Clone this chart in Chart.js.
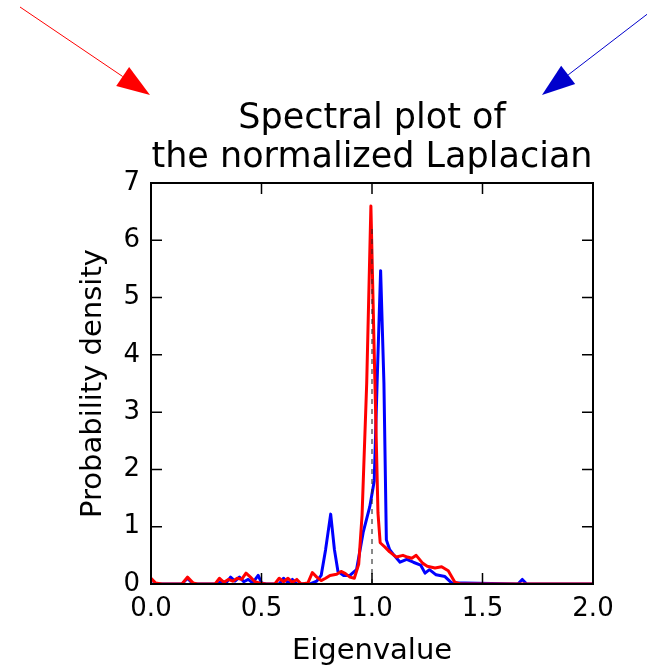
<!DOCTYPE html>
<html>
<head>
<meta charset="utf-8">
<script src="https://cdn.jsdelivr.net/npm/chart.js@4.4.0/dist/chart.umd.min.js"></script>
<style>
  body { margin: 0; background: #fff; }
  #marco { width: 647px; height: 667px; }
</style>
</head>
<body>
<div id="marco"><canvas id="grafico"></canvas></div>
<script>
//valores propios y densidad (curva roja)
const autovaloresRojo = [0.00, 0.02, 0.05, 0.14, 0.165, 0.19, 0.21, 0.29, 0.31, 0.33, 0.35, 0.37, 0.39, 0.41, 0.43, 0.45, 0.47, 0.49, 0.52, 0.56, 0.58, 0.60, 0.62, 0.64, 0.66, 0.68, 0.71, 0.73, 0.75, 0.77, 0.79, 0.81, 0.84, 0.86, 0.88, 0.90, 0.92, 0.94, 0.955, 0.976, 0.995, 1.013, 1.027, 1.037, 1.06, 1.08, 1.11, 1.14, 1.16, 1.18, 1.20, 1.23, 1.25, 1.285, 1.315, 1.345, 1.375, 1.40, 2.00];
const densidadRojo = [0.10, 0.02, 0.0, 0.0, 0.12, 0.02, 0.0, 0.0, 0.10, 0.03, 0.08, 0.05, 0.10, 0.08, 0.19, 0.12, 0.04, 0.02, 0.0, 0.0, 0.10, 0.04, 0.10, 0.03, 0.08, 0.0, 0.02, 0.20, 0.12, 0.06, 0.10, 0.15, 0.17, 0.22, 0.18, 0.12, 0.10, 0.35, 1.2, 3.5, 6.6, 3.55, 1.24, 0.72, 0.64, 0.56, 0.47, 0.50, 0.47, 0.45, 0.50, 0.36, 0.31, 0.28, 0.30, 0.23, 0.03, 0.0, 0.0];
//valores propios y densidad (curva azul)
const autovaloresAzul = [0.00, 0.14, 0.165, 0.19, 0.30, 0.32, 0.34, 0.36, 0.38, 0.40, 0.42, 0.44, 0.46, 0.485, 0.50, 0.52, 0.58, 0.60, 0.62, 0.64, 0.66, 0.72, 0.75, 0.77, 0.79, 0.813, 0.83, 0.846, 0.87, 0.90, 0.93, 0.96, 0.99, 1.01, 1.023, 1.039, 1.054, 1.065, 1.08, 1.10, 1.127, 1.157, 1.187, 1.22, 1.24, 1.26, 1.29, 1.33, 1.36, 1.66, 1.68, 1.70, 2.00];
const densidadAzul = [0.0, 0.0, 0.10, 0.0, 0.0, 0.05, 0.02, 0.12, 0.05, 0.12, 0.04, 0.08, 0.02, 0.15, 0.02, 0.0, 0.0, 0.10, 0.02, 0.08, 0.0, 0.0, 0.05, 0.15, 0.6, 1.22, 0.6, 0.22, 0.15, 0.15, 0.25, 0.9, 1.35, 1.8, 3.5, 5.47, 3.5, 0.77, 0.60, 0.50, 0.38, 0.43, 0.38, 0.33, 0.19, 0.25, 0.16, 0.13, 0.02, 0.0, 0.08, 0.0, 0.0];
//linea discontinua en 1.0
const marcaX = [1.0, 1.0];
const marcaY = [0.0, 6.2];
//ticks de los ejes
const ticksX = [0.0, 0.5, 1.0, 1.5, 2.0];
const ticksY = [0, 1, 2, 3, 4, 5, 6, 7];

const puntos = (xs, ys) => xs.map((x, i) => ({ x: x, y: ys[i] }));

//marco negro, ticks hacia dentro y flechas de arriba
const decoracion = {
    id: "decoracion",
    afterDraw(chart) {
        const ctx = chart.ctx;
        const area = chart.chartArea;
        const ejeX = chart.scales.x;
        const ejeY = chart.scales.y;
        const largo = 11;
        ctx.save();
        ctx.strokeStyle = "#000";
        ctx.lineWidth = 1.5;
        ticksX.forEach(v => {
            const px = ejeX.getPixelForValue(v);
            ctx.beginPath();
            ctx.moveTo(px, area.bottom); ctx.lineTo(px, area.bottom - largo);
            ctx.moveTo(px, area.top); ctx.lineTo(px, area.top + largo);
            ctx.stroke();
        });
        ticksY.forEach(v => {
            const py = ejeY.getPixelForValue(v);
            ctx.beginPath();
            ctx.moveTo(area.left, py); ctx.lineTo(area.left + largo, py);
            ctx.moveTo(area.right, py); ctx.lineTo(area.right - largo, py);
            ctx.stroke();
        });
        ctx.lineWidth = 2;
        ctx.strokeRect(area.left, area.top, area.right - area.left, area.bottom - area.top);

        const flechas = [
            { desde: [20, 7], hasta: [150, 95], color: "#ff0000" },
            { desde: [650, 12], hasta: [542, 95], color: "#0000cc" }
        ];
        flechas.forEach(f => {
            const dx = f.hasta[0] - f.desde[0];
            const dy = f.hasta[1] - f.desde[1];
            const d = Math.hypot(dx, dy);
            const ux = dx / d, uy = dy / d;
            const bx = f.hasta[0] - ux * 33, by = f.hasta[1] - uy * 33;
            ctx.strokeStyle = f.color;
            ctx.fillStyle = f.color;
            ctx.lineWidth = 1;
            ctx.beginPath();
            ctx.moveTo(f.desde[0], f.desde[1]);
            ctx.lineTo(bx, by);
            ctx.stroke();
            ctx.beginPath();
            ctx.moveTo(f.hasta[0], f.hasta[1]);
            ctx.lineTo(bx - uy * 11.5, by + ux * 11.5);
            ctx.lineTo(bx + uy * 11.5, by - ux * 11.5);
            ctx.closePath();
            ctx.fill();
        });
        ctx.restore();
    }
};

const fuente = "'DejaVu Sans', sans-serif";

new Chart(document.getElementById("grafico"), {
    type: "line",
    data: {
        datasets: [
            {
                data: puntos(marcaX, marcaY),
                borderColor: "rgba(40,40,40,0.55)",
                borderWidth: 2,
                borderDash: [5, 5],
                pointRadius: 0
            },
            {
                data: puntos(autovaloresRojo, densidadRojo),
                borderColor: "#ff0000",
                borderWidth: 3,
                borderJoinStyle: "round",
                borderCapStyle: "round",
                pointRadius: 0,
                tension: 0
            },
            {
                data: puntos(autovaloresAzul, densidadAzul),
                borderColor: "#0000ff",
                borderWidth: 3,
                borderJoinStyle: "round",
                borderCapStyle: "round",
                pointRadius: 0,
                tension: 0
            }
        ]
    },
    options: {
        responsive: true,
        maintainAspectRatio: false,
        animation: false,
        layout: { padding: { left: 0, right: 54, top: 0, bottom: 0 } },
        plugins: {
            legend: { display: false },
            tooltip: { enabled: false },
            title: {
                display: true,
                fullSize: false,
                text: ["Spectral plot of", "the normalized Laplacian"],
                color: "#000",
                font: { family: fuente, size: 35, weight: "normal", lineHeight: 1.1 },
                padding: { top: 100, bottom: 6 }
            }
        },
        scales: {
            x: {
                type: "linear",
                min: 0,
                max: 2,
                afterFit: s => { s.height = 83; },
                afterBuildTicks: s => { s.ticks = ticksX.map(v => ({ value: v })); },
                grid: { display: false, drawTicks: false },
                border: { display: false },
                ticks: {
                    padding: 10,
                    color: "#000",
                    font: { family: fuente, size: 26 },
                    callback: v => v.toFixed(1)
                },
                title: {
                    display: true,
                    text: "Eigenvalue",
                    color: "#000",
                    font: { family: fuente, size: 29 },
                    padding: { top: 0, bottom: -2 }
                }
            },
            y: {
                min: 0,
                max: 7,
                afterFit: s => { s.width = 151; },
                afterBuildTicks: s => { s.ticks = ticksY.map(v => ({ value: v })); },
                grid: { display: false, drawTicks: false },
                border: { display: false },
                ticks: {
                    padding: 11,
                    color: "#000",
                    font: { family: fuente, size: 26 }
                },
                title: {
                    display: true,
                    text: "Probability density",
                    color: "#000",
                    font: { family: fuente, size: 29 },
                    padding: { top: 76, bottom: 0 }
                }
            }
        }
    },
    plugins: [decoracion]
});
</script>
</body>
</html>
